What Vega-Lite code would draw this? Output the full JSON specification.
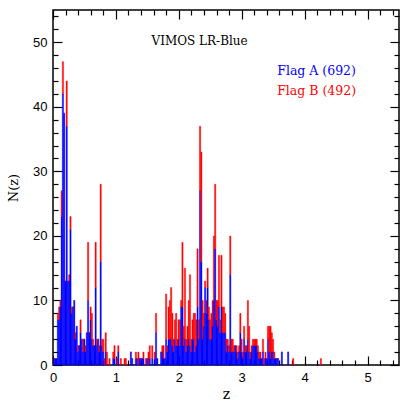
{
  "$schema": "https://vega.github.io/schema/vega-lite/v6.json",
  "autosize": "none",
  "width": 346,
  "height": 355,
  "padding": {"left": 53, "top": 10, "right": 10, "bottom": 44},
  "background": "white",
  "config": {
    "view": {"stroke": "black", "strokeWidth": 1.5},
    "axis": {"grid": false, "domain": false, "tickColor": "black", "tickWidth": 1.2, "labelOverlap": false,
      "labelFont": "Liberation Sans", "labelFontSize": 13, "labelColor": "black",
      "titleFont": "DejaVu Serif", "titleFontSize": 13, "titleFontWeight": "normal", "titleColor": "black"}
  },
  "datasets": {
    "hist": [
      {"z":0.00,"A":1,"B":0},{"z":0.02,"A":1,"B":0},{"z":0.04,"A":1,"B":0},{"z":0.06,"A":7,"B":1},{"z":0.08,"A":7,"B":2},
      {"z":0.10,"A":9,"B":1},{"z":0.12,"A":23,"B":4},{"z":0.14,"A":42,"B":5},{"z":0.16,"A":39,"B":0},{"z":0.18,"A":13,"B":0},
      {"z":0.20,"A":37,"B":7},{"z":0.22,"A":13,"B":0},{"z":0.24,"A":13,"B":1},{"z":0.26,"A":21,"B":2},{"z":0.28,"A":8,"B":1},
      {"z":0.30,"A":9,"B":0},{"z":0.32,"A":10,"B":0},{"z":0.34,"A":4,"B":1},{"z":0.36,"A":6,"B":0},{"z":0.38,"A":2,"B":1},
      {"z":0.40,"A":3,"B":0},{"z":0.42,"A":5,"B":2},{"z":0.44,"A":4,"B":0},{"z":0.46,"A":2,"B":2},{"z":0.48,"A":4,"B":0},
      {"z":0.50,"A":2,"B":1},{"z":0.52,"A":5,"B":0},{"z":0.54,"A":10,"B":9},{"z":0.56,"A":5,"B":0},{"z":0.58,"A":7,"B":2},
      {"z":0.60,"A":4,"B":4},{"z":0.62,"A":3,"B":1},{"z":0.64,"A":3,"B":0},{"z":0.66,"A":12,"B":7},{"z":0.68,"A":3,"B":1},
      {"z":0.70,"A":4,"B":0},{"z":0.72,"A":2,"B":1},{"z":0.74,"A":16,"B":12},{"z":0.76,"A":3,"B":1},{"z":0.78,"A":2,"B":2},
      {"z":0.80,"A":0,"B":1},{"z":0.82,"A":2,"B":3},{"z":0.84,"A":0,"B":2},{"z":0.88,"A":0,"B":1},{"z":0.94,"A":1,"B":1},
      {"z":0.96,"A":1,"B":2},{"z":1.00,"A":0,"B":1},{"z":1.02,"A":2,"B":1},{"z":1.06,"A":0,"B":1},{"z":1.12,"A":0,"B":1},
      {"z":1.14,"A":0,"B":1},{"z":1.22,"A":2,"B":0},{"z":1.24,"A":1,"B":0},{"z":1.30,"A":1,"B":1},{"z":1.32,"A":1,"B":0},
      {"z":1.34,"A":0,"B":2},{"z":1.36,"A":1,"B":0},{"z":1.38,"A":1,"B":0},{"z":1.40,"A":1,"B":0},{"z":1.42,"A":1,"B":1},
      {"z":1.46,"A":0,"B":1},{"z":1.48,"A":1,"B":0},{"z":1.50,"A":0,"B":2},{"z":1.52,"A":1,"B":2},{"z":1.56,"A":1,"B":2},
      {"z":1.60,"A":1,"B":1},{"z":1.62,"A":5,"B":3},{"z":1.64,"A":1,"B":0},{"z":1.70,"A":2,"B":0},{"z":1.72,"A":2,"B":1},
      {"z":1.74,"A":1,"B":2},{"z":1.76,"A":1,"B":0},{"z":1.78,"A":4,"B":7},{"z":1.80,"A":2,"B":1},{"z":1.82,"A":4,"B":5},
      {"z":1.84,"A":4,"B":6},{"z":1.86,"A":4,"B":8},{"z":1.88,"A":3,"B":5},{"z":1.90,"A":2,"B":2},{"z":1.92,"A":4,"B":3},
      {"z":1.94,"A":3,"B":5},{"z":1.96,"A":3,"B":1},{"z":1.98,"A":4,"B":3},{"z":2.00,"A":3,"B":4},{"z":2.02,"A":9,"B":1},
      {"z":2.04,"A":9,"B":10},{"z":2.06,"A":3,"B":3},{"z":2.08,"A":4,"B":11},{"z":2.10,"A":2,"B":2},{"z":2.12,"A":3,"B":3},
      {"z":2.14,"A":4,"B":6},{"z":2.16,"A":3,"B":11},{"z":2.18,"A":2,"B":2},{"z":2.20,"A":4,"B":3},{"z":2.22,"A":4,"B":4},
      {"z":2.24,"A":2,"B":6},{"z":2.26,"A":3,"B":4},{"z":2.28,"A":9,"B":9},{"z":2.30,"A":4,"B":3},{"z":2.32,"A":27,"B":10},
      {"z":2.34,"A":16,"B":17},{"z":2.36,"A":4,"B":6},{"z":2.38,"A":6,"B":2},{"z":2.40,"A":12,"B":1},{"z":2.42,"A":8,"B":2},
      {"z":2.44,"A":12,"B":3},{"z":2.46,"A":7,"B":2},{"z":2.48,"A":4,"B":3},{"z":2.50,"A":4,"B":4},{"z":2.52,"A":6,"B":4},
      {"z":2.54,"A":10,"B":10},{"z":2.56,"A":18,"B":10},{"z":2.58,"A":7,"B":3},{"z":2.60,"A":6,"B":4},{"z":2.62,"A":9,"B":8},
      {"z":2.64,"A":5,"B":2},{"z":2.66,"A":9,"B":8},{"z":2.68,"A":5,"B":4},{"z":2.70,"A":5,"B":4},{"z":2.72,"A":5,"B":3},
      {"z":2.74,"A":2,"B":2},{"z":2.76,"A":3,"B":1},{"z":2.78,"A":2,"B":1},{"z":2.80,"A":14,"B":6},{"z":2.82,"A":2,"B":2},
      {"z":2.84,"A":2,"B":2},{"z":2.86,"A":2,"B":1},{"z":2.88,"A":3,"B":0},{"z":2.90,"A":2,"B":1},{"z":2.92,"A":1,"B":1},
      {"z":2.94,"A":2,"B":1},{"z":2.96,"A":5,"B":3},{"z":2.98,"A":2,"B":2},{"z":3.00,"A":1,"B":1},{"z":3.02,"A":4,"B":2},
      {"z":3.04,"A":2,"B":1},{"z":3.06,"A":2,"B":1},{"z":3.08,"A":4,"B":6},{"z":3.10,"A":2,"B":4},{"z":3.12,"A":1,"B":1},
      {"z":3.14,"A":2,"B":1},{"z":3.16,"A":3,"B":1},{"z":3.18,"A":3,"B":1},{"z":3.20,"A":3,"B":1},{"z":3.22,"A":3,"B":1},
      {"z":3.24,"A":2,"B":1},{"z":3.26,"A":1,"B":1},{"z":3.28,"A":1,"B":1},{"z":3.30,"A":1,"B":0},{"z":3.32,"A":2,"B":2},
      {"z":3.34,"A":0,"B":1},{"z":3.36,"A":1,"B":1},{"z":3.38,"A":1,"B":0},{"z":3.40,"A":4,"B":2},{"z":3.42,"A":2,"B":4},
      {"z":3.44,"A":1,"B":5},{"z":3.46,"A":2,"B":3},{"z":3.48,"A":2,"B":2},{"z":3.50,"A":1,"B":1},{"z":3.52,"A":1,"B":0},
      {"z":3.54,"A":1,"B":0},{"z":3.56,"A":1,"B":0},{"z":3.62,"A":2,"B":0},{"z":3.72,"A":2,"B":0},{"z":3.80,"A":0,"B":1},
      {"z":4.24,"A":0,"B":1}
    ],
    "legend": [
      {"tx": 4.19, "ty": 45.5, "flag": "A", "label": "Flag A (692)"},
      {"tx": 4.19, "ty": 42.5, "flag": "B", "label": "Flag B (492)"}
    ],
    "title": [
      {"tx": 2.33, "ty": 50.2, "label": "VIMOS LR-Blue"}
    ]
  },
  "layer": [
    {
      "data": {"name": "hist"},
      "transform": [{"fold": ["A", "B"], "as": ["flag", "n"]}],
      "mark": {"type": "bar", "binSpacing": 0, "strokeWidth": 0.4},
      "encoding": {
        "x": {"field": "z", "type": "quantitative", "bin": {"binned": true, "step": 0.02},
          "scale": {"domain": [0, 5.5], "nice": false, "zero": false},
          "axis": {"orient": "bottom", "title": "z", "titleFontSize": 14, "titlePadding": -1,
            "values": [0,0.2,0.4,0.6,0.8,1,1.2,1.4,1.6,1.8,2,2.2,2.4,2.6,2.8,3,3.2,3.4,3.6,3.8,4,4.2,4.4,4.6,4.8,5,5.2,5.4],
            "tickSize": {"condition": {"test": "abs(datum.value - round(datum.value)) < 0.001", "value": -9}, "value": -5},
            "labelExpr": "abs(datum.value - round(datum.value)) < 0.001 ? toString(round(datum.value)) : ''",
            "labelPadding": 15, "labelFlush": false}},
        "y": {"field": "n", "type": "quantitative", "stack": "zero",
          "scale": {"domain": [0, 55], "nice": false},
          "axis": {"orient": "left", "title": "N(z)", "titlePadding": 12,
            "values": [0,2,4,6,8,10,12,14,16,18,20,22,24,26,28,30,32,34,36,38,40,42,44,46,48,50,52,54],
            "tickSize": {"condition": {"test": "datum.value % 10 === 0", "value": -9}, "value": -5},
            "labelExpr": "datum.value % 10 === 0 ? datum.label : ''",
            "labelPadding": 15}},
        "color": {"field": "flag", "type": "nominal", "scale": {"domain": ["A", "B"], "range": ["#0000ff", "#ff0000"]}, "legend": null},
        "stroke": {"field": "flag", "type": "nominal", "scale": {"domain": ["A", "B"], "range": ["#0000ff", "#ff0000"]}, "legend": null},
        "order": {"field": "flag", "sort": "ascending"}
      }
    },
    {
      "data": {"name": "legend"},
      "mark": {"type": "text", "font": "DejaVu Serif", "fontSize": 12.5, "align": "center", "baseline": "middle"},
      "encoding": {
        "x": {"field": "tx", "type": "quantitative", "axis": null},
        "y": {"field": "ty", "type": "quantitative", "axis": null},
        "text": {"field": "label"},
        "color": {"field": "flag", "type": "nominal", "legend": null}
      }
    },
    {
      "data": {"name": "title"},
      "mark": {"type": "text", "font": "DejaVu Serif", "fontSize": 12, "align": "center", "baseline": "middle", "color": "black"},
      "encoding": {
        "x": {"field": "tx", "type": "quantitative",
          "axis": {"orient": "top", "title": null, "labels": false,
            "values": [0,0.2,0.4,0.6,0.8,1,1.2,1.4,1.6,1.8,2,2.2,2.4,2.6,2.8,3,3.2,3.4,3.6,3.8,4,4.2,4.4,4.6,4.8,5,5.2,5.4],
            "tickSize": {"condition": {"test": "abs(datum.value - round(datum.value)) < 0.001", "value": -9}, "value": -5}}},
        "y": {"field": "ty", "type": "quantitative",
          "axis": {"orient": "right", "title": null, "labels": false,
            "values": [0,2,4,6,8,10,12,14,16,18,20,22,24,26,28,30,32,34,36,38,40,42,44,46,48,50,52,54],
            "tickSize": {"condition": {"test": "datum.value % 10 === 0", "value": -9}, "value": -5}}},
        "text": {"field": "label"}
      }
    }
  ],
  "resolve": {"axis": {"x": "independent", "y": "independent"}}
}
